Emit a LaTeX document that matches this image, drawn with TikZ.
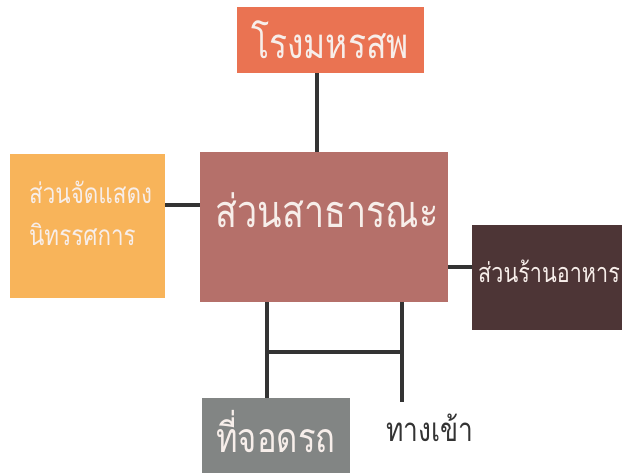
\documentclass[tikz,border=0pt]{standalone}
\usepackage{fontspec}
\newfontfamily\thaifont[Script=Thai,FakeStretch=0.8]{Loma}
\definecolor{cTop}{HTML}{EA7352}
\definecolor{cMid}{HTML}{B5706A}
\definecolor{cLeft}{HTML}{F8B45A}
\definecolor{cRight}{HTML}{4D3536}
\definecolor{cPark}{HTML}{828584}
\definecolor{cTxt}{HTML}{F7EEEA}
\definecolor{cLine}{HTML}{333333}
\begin{document}
\begin{tikzpicture}[x=1pt,y=-1pt,
  box/.style={draw=none,inner sep=0pt,outer sep=0pt,anchor=north west},
  lbl/.style={inner sep=0pt,text=cTxt,font=\thaifont},
  conn/.style={draw=cLine,line width=4pt}]
\useasboundingbox (0,0) rectangle (622,473);
\node[box,fill=cTop,minimum width=187pt,minimum height=66pt] (top) at (237,7) {};
\node[box,fill=cMid,minimum width=248pt,minimum height=150pt] (mid) at (200,152) {};
\node[box,fill=cLeft,minimum width=155pt,minimum height=144pt] (left) at (10,154) {};
\node[box,fill=cRight,minimum width=152pt,minimum height=105pt] (right) at (472,225) {};
\node[box,fill=cPark,minimum width=148pt,minimum height=80pt] (park) at (202,398) {};
\node[lbl,font=\thaifont\fontsize{42}{46}\selectfont] (topt) at (330,40) {โรงมหรสพ};
\node[lbl,font=\thaifont\fontsize{45}{50}\selectfont] (midt) at (327,210) {ส่วนสาธารณะ};
\node[lbl,font=\thaifont\fontsize{28}{32}\selectfont,anchor=west] (leftt1) at (29,192) {ส่วนจัดแสดง};
\node[lbl,font=\thaifont\fontsize{28}{32}\selectfont,anchor=west] (leftt2) at (29,234) {นิทรรศการ};
\node[lbl,font=\thaifont\fontsize{27}{31}\selectfont,anchor=west] (rightt) at (478,271) {ส่วนร้านอาหาร};
\node[lbl,font=\thaifont\fontsize{41}{45}\selectfont] (parkt) at (276,432) {ที่จอดรถ};
\node[lbl,text=cLine,font=\thaifont\fontsize{33}{37}\selectfont,anchor=west] (entr) at (386,428) {ทางเข้า};
\coordinate (eend) at (402,402);
\coordinate (hl) at (267,352);
\draw[conn] (top.south -| 317,0) -- (mid.north -| 317,0);
\draw[conn] (left.east |- 0,205) -- (mid.west |- 0,205);
\draw[conn] (mid.east |- 0,267) -- (right.west |- 0,267);
\draw[conn] (mid.south -| 267,0) -- (park.north -| 267,0);
\draw[conn] (mid.south -| eend) -- (eend);
\draw[conn] (hl) -- (hl -| eend);
\end{tikzpicture}
\end{document}
